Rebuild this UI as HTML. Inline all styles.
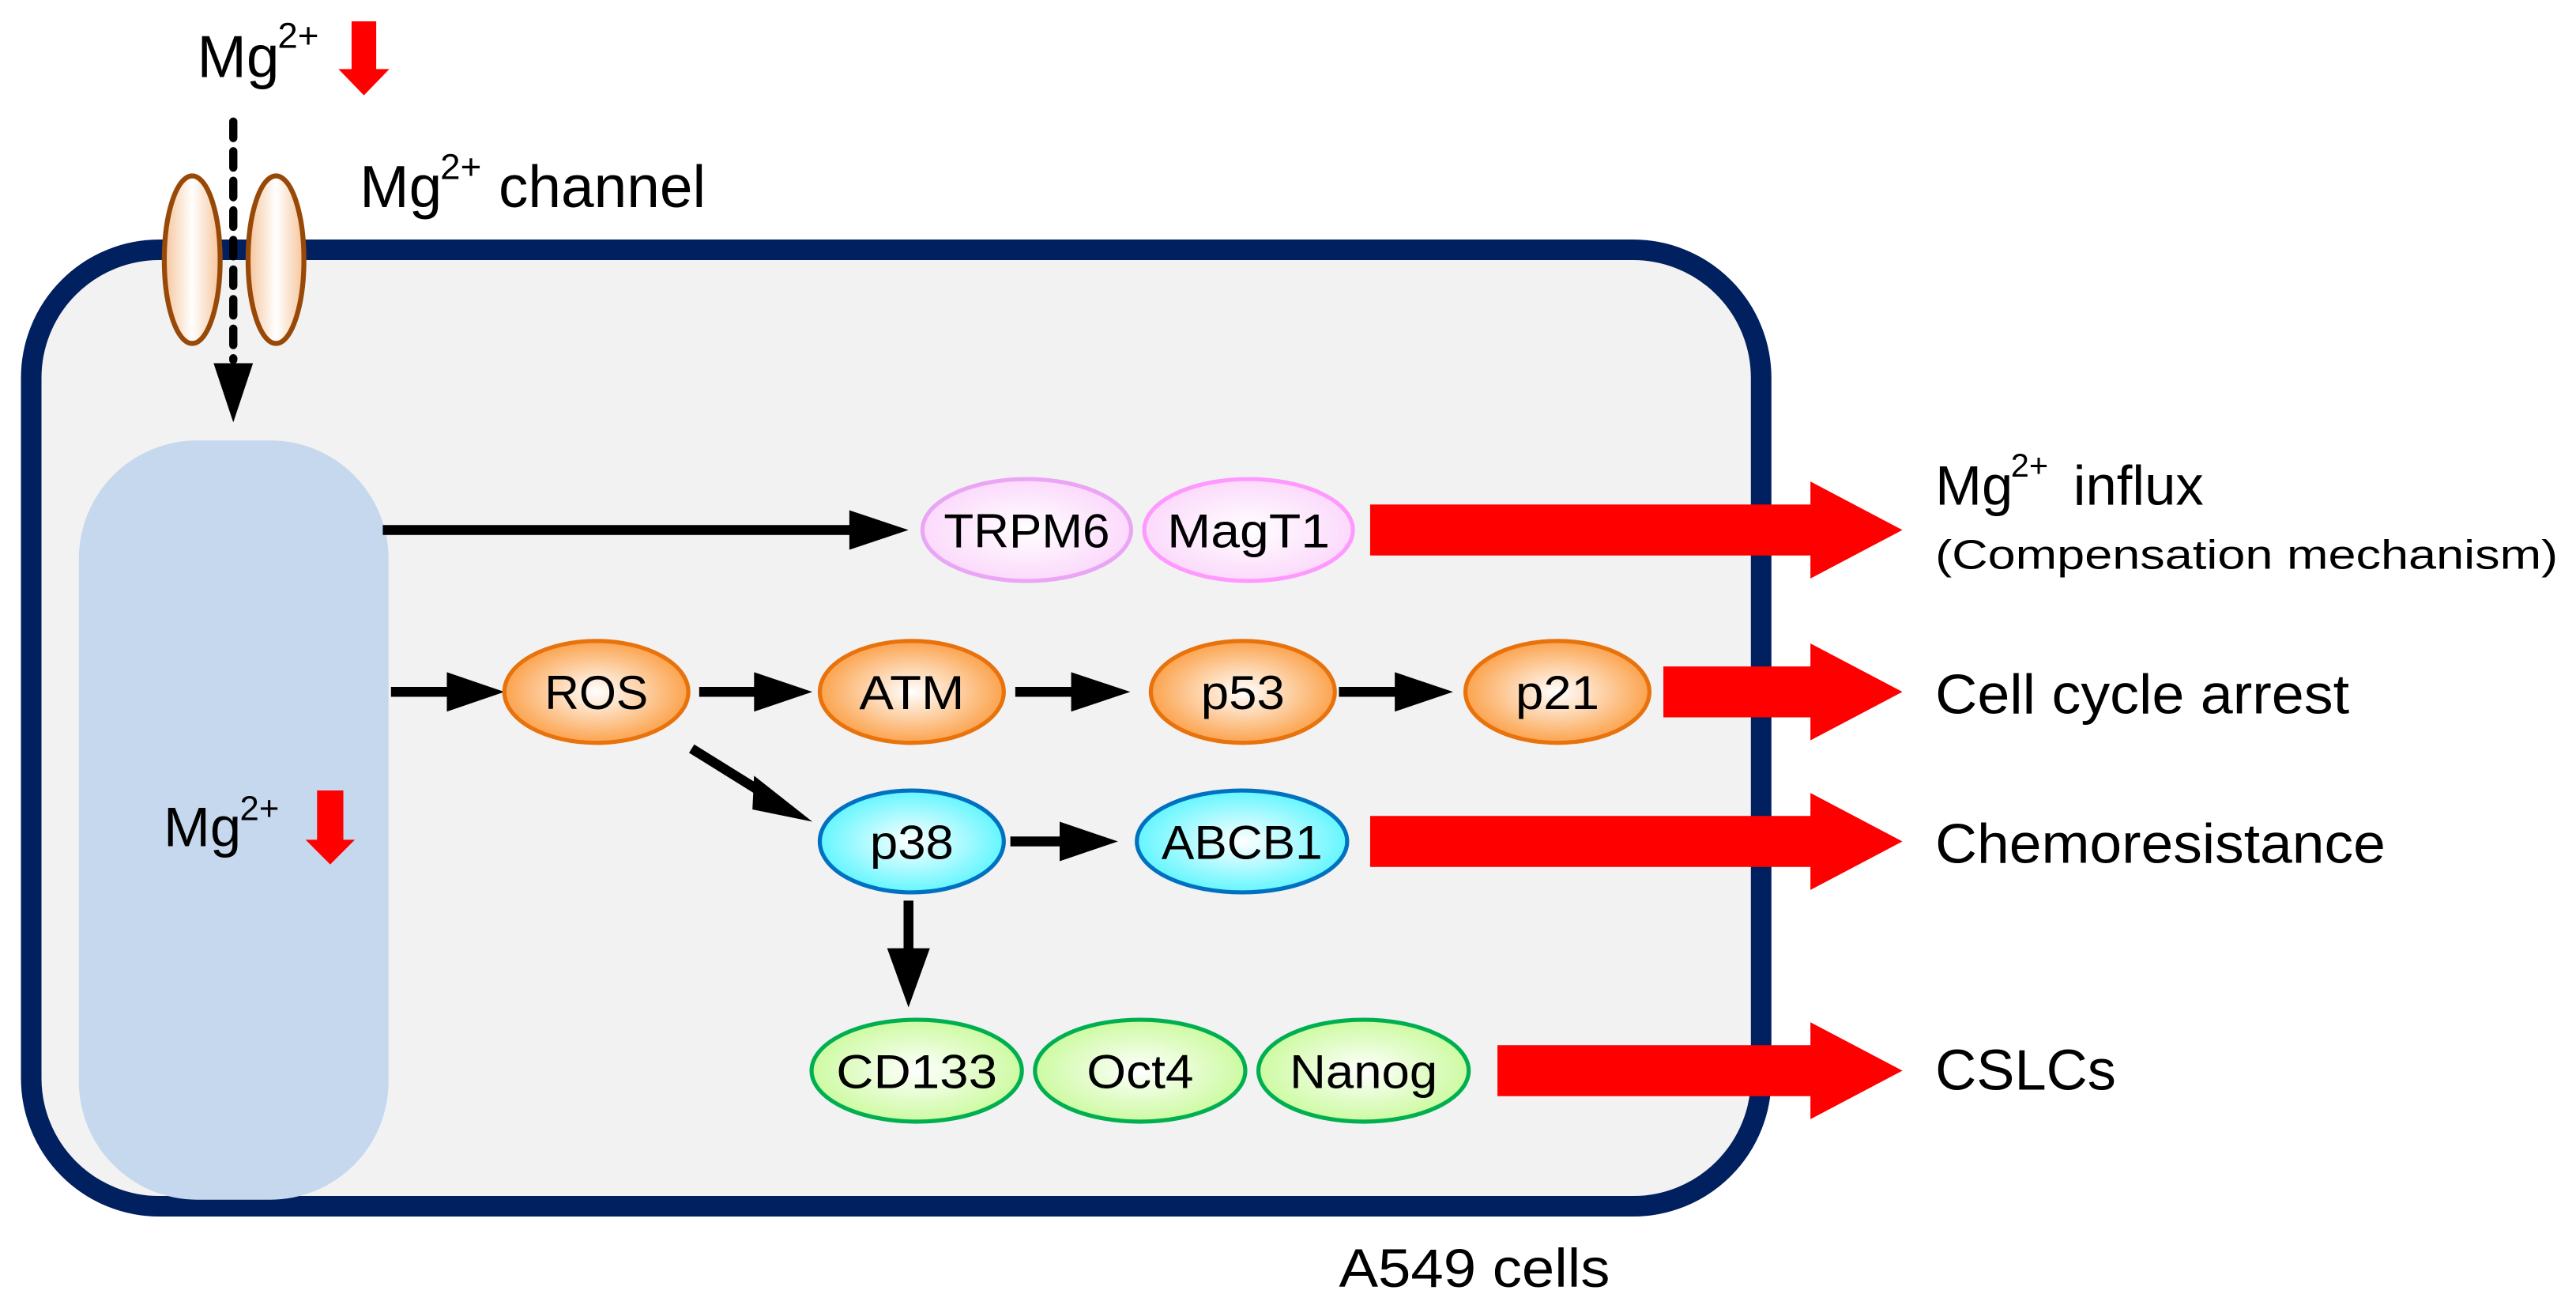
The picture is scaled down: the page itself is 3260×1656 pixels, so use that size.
<!DOCTYPE html>
<html><head><meta charset="utf-8"><style>
html,body{margin:0;padding:0;background:#fff;}
svg{display:block;}
text{font-family:"Liberation Sans",Arial,sans-serif;fill:#000;}
</style></head><body>
<svg width="3260" height="1656" viewBox="0 0 1568 796.5" preserveAspectRatio="none" xmlns="http://www.w3.org/2000/svg">
<defs>
<radialGradient id="go" cx="50%" cy="50%" r="55%"><stop offset="0" stop-color="#ffffff"/><stop offset="1" stop-color="#fb9a3c"/></radialGradient>
<radialGradient id="gp" cx="50%" cy="50%" r="55%"><stop offset="0" stop-color="#ffffff"/><stop offset="1" stop-color="#fbd6fb"/></radialGradient>
<radialGradient id="gc" cx="50%" cy="50%" r="55%"><stop offset="0" stop-color="#ffffff"/><stop offset="1" stop-color="#55f5ff"/></radialGradient>
<radialGradient id="gg" cx="50%" cy="50%" r="55%"><stop offset="0" stop-color="#ffffff"/><stop offset="1" stop-color="#c8fa98"/></radialGradient>
<linearGradient id="gch" x1="0" y1="0" x2="1" y2="0"><stop offset="0" stop-color="#f6c49a"/><stop offset="0.5" stop-color="#ffffff"/><stop offset="1" stop-color="#f6c49a"/></linearGradient>
</defs>

<rect x="19" y="152" width="1053" height="582" rx="78" ry="78" fill="#f2f2f2" stroke="#002060" stroke-width="12.5"/>
<rect x="48" y="268" width="188.5" height="462" rx="72" ry="72" fill="#c5d8ee"/>

<ellipse cx="117" cy="158" rx="17" ry="51" fill="url(#gch)" stroke="#984807" stroke-width="3"/>
<ellipse cx="168" cy="158" rx="17" ry="51" fill="url(#gch)" stroke="#984807" stroke-width="3"/>
<line x1="142" y1="74" x2="142" y2="219" stroke="#000" stroke-width="5" stroke-dasharray="10,8" stroke-linecap="round"/>
<polygon points="130,221 154,221 142,257" fill="#000"/>

<text x="120" y="47" font-size="36">Mg</text>
<text x="169" y="29" font-size="22">2+</text>
<polygon points="214,13 229,13 229,42 237,42 221.5,58 206,42 214,42" fill="#ff0000"/>
<text x="219" y="126" font-size="36">Mg</text>
<text x="268" y="109" font-size="22">2+</text>
<text x="303.5" y="126" font-size="36">channel</text>

<text x="99.6" y="515" font-size="34">Mg</text>
<text x="146" y="499" font-size="21">2+</text>
<polygon points="193,481 209,481 209,511 216,511 201,526 186,511 193,511" fill="#ff0000"/>

<g stroke="#000" stroke-width="6">
<line x1="233" y1="322.5" x2="518" y2="322.5"/>
<line x1="238" y1="421" x2="273" y2="421"/>
<line x1="425.6" y1="421" x2="460" y2="421"/>
<line x1="618" y1="421" x2="653" y2="421"/>
<line x1="815" y1="421" x2="850" y2="421"/>
<line x1="615" y1="512" x2="646" y2="512"/>
<line x1="421" y1="455.5" x2="462" y2="481"/>
<line x1="553" y1="548" x2="553" y2="578"/>
</g>
<g fill="#000">
<polygon points="517,310.5 553,322.5 517,334.5"/>
<polygon points="272,409 307,421 272,433"/>
<polygon points="459,409 494.5,421 459,433"/>
<polygon points="652,409 688,421 652,433"/>
<polygon points="849,409 884.5,421 849,433"/>
<polygon points="645,500 680.5,512 645,524"/>
<polygon points="459,472 494.5,500 458,492.5"/>
<polygon points="540,577 566,577 553,613"/>
</g>

<g stroke-width="2.5" text-anchor="middle" font-size="29">
<ellipse cx="625" cy="322.5" rx="63.5" ry="31" fill="url(#gp)" stroke="#eaa6f4"/>
<ellipse cx="760" cy="322.5" rx="63.5" ry="31" fill="url(#gp)" stroke="#ff99ff"/>
<ellipse cx="363" cy="421" rx="56" ry="31" fill="url(#go)" stroke="#e8720c"/>
<ellipse cx="555" cy="421" rx="56" ry="31" fill="url(#go)" stroke="#e8720c"/>
<ellipse cx="756.5" cy="421" rx="56" ry="31" fill="url(#go)" stroke="#e8720c"/>
<ellipse cx="948" cy="421" rx="56" ry="31" fill="url(#go)" stroke="#e8720c"/>
<ellipse cx="555" cy="512" rx="56" ry="31" fill="url(#gc)" stroke="#0070c0"/>
<ellipse cx="756" cy="512" rx="64" ry="31" fill="url(#gc)" stroke="#0070c0"/>
<ellipse cx="558" cy="651.5" rx="64" ry="31" fill="url(#gg)" stroke="#00b050"/>
<ellipse cx="694" cy="651.5" rx="64" ry="31" fill="url(#gg)" stroke="#00b050"/>
<ellipse cx="830" cy="651.5" rx="64" ry="31" fill="url(#gg)" stroke="#00b050"/>
<text x="625" y="333" stroke="none" textLength="101" lengthAdjust="spacingAndGlyphs">TRPM6</text>
<text x="760" y="333" stroke="none" textLength="99" lengthAdjust="spacingAndGlyphs">MagT1</text>
<text x="363" y="431.5" stroke="none" textLength="63" lengthAdjust="spacingAndGlyphs">ROS</text>
<text x="555" y="431.5" stroke="none" textLength="64" lengthAdjust="spacingAndGlyphs">ATM</text>
<text x="756.5" y="431.5" stroke="none" textLength="51" lengthAdjust="spacingAndGlyphs">p53</text>
<text x="948" y="431.5" stroke="none" textLength="51" lengthAdjust="spacingAndGlyphs">p21</text>
<text x="555" y="522.5" stroke="none" textLength="51" lengthAdjust="spacingAndGlyphs">p38</text>
<text x="756" y="522.5" stroke="none" textLength="98" lengthAdjust="spacingAndGlyphs">ABCB1</text>
<text x="558" y="662" stroke="none" textLength="98" lengthAdjust="spacingAndGlyphs">CD133</text>
<text x="694" y="662" stroke="none" textLength="65" lengthAdjust="spacingAndGlyphs">Oct4</text>
<text x="830" y="662" stroke="none" textLength="90" lengthAdjust="spacingAndGlyphs">Nanog</text>
</g>

<g fill="#ff0000">
<polygon points="834,307 1102,307 1102,293 1158,322.5 1102,352 1102,338 834,338"/>
<polygon points="1012.5,405.5 1102,405.5 1102,391.5 1158,421 1102,450.5 1102,436.5 1012.5,436.5"/>
<polygon points="834,496.5 1102,496.5 1102,482.5 1158,512 1102,541.5 1102,527.5 834,527.5"/>
<polygon points="911.5,636 1102,636 1102,622 1158,651.5 1102,681 1102,667 911.5,667"/>
</g>

<text x="1178" y="307" font-size="34">Mg</text>
<text x="1224" y="290" font-size="20">2+</text>
<text x="1262" y="307" font-size="34">influx</text>
<text x="1178" y="346" font-size="25" textLength="379" lengthAdjust="spacingAndGlyphs">(Compensation mechanism)</text>
<text x="1178" y="434" font-size="34" textLength="252" lengthAdjust="spacingAndGlyphs">Cell cycle arrest</text>
<text x="1178" y="525" font-size="34" textLength="274" lengthAdjust="spacingAndGlyphs">Chemoresistance</text>
<text x="1178" y="663" font-size="35" textLength="110" lengthAdjust="spacingAndGlyphs">CSLCs</text>
<text x="815" y="783" font-size="33" textLength="165" lengthAdjust="spacingAndGlyphs">A549 cells</text>
</svg>
</body></html>
